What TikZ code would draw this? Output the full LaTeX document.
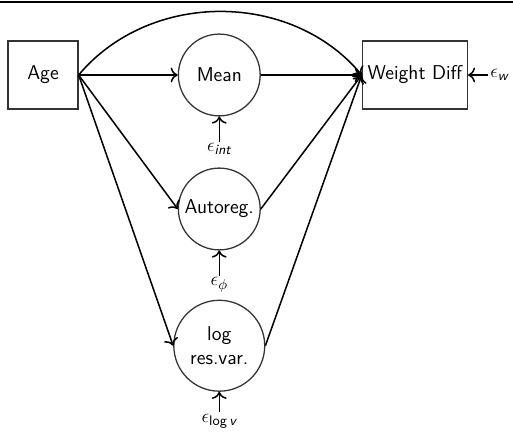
\documentclass[tikz,border=0pt]{standalone}
\usepackage{amsmath}
\usetikzlibrary{arrows.meta,positioning}

\begin{document}
\begin{tikzpicture}[
        >={To[scale=1.2]},
        every node/.style={font=\fontsize{12.5}{15}\selectfont\sffamily},
        obs/.style={draw=black!80, thick, rectangle, minimum height=1.5cm},
        latent/.style={draw=black!80, thick, circle, minimum size=1.8cm, align=center, inner sep=1pt},
        noise/.style={inner sep=1pt},
        link/.style={->, line width=0.95pt},
        node distance=1.12cm and 2.18cm
        ]
        \useasboundingbox (-0.946,-7.854) rectangle (10.34,1.65);
        % rule along the top
        \draw[line width=1.2pt] (-0.946,1.6) -- (10.34,1.6);

        % Nodes
        \node[obs, minimum width=1.54cm] (age) at (0,0) {Age};
        \node[latent] (mean)    [right=of age]            {Mean};
        \node[obs, minimum width=2.31cm, inner sep=2pt] (wdiff) [right=2.22cm of mean] {Weight Diff};
        \node[latent] (autoreg) [below=of mean]           {Autoreg.};
        \node[latent, minimum size=2cm] (logvar) [below=1.08cm of autoreg] {log\\res.var.};

        % Error terms
        \node[noise] (ew)   [right=0.45cm of wdiff]  {$\epsilon_{\textit{w}}$};
        \node[noise] (eint) [below=0.55cm of mean]   {$\epsilon_{\textit{int}}$};
        \node[noise] (ephi) [below=0.55cm of autoreg] {$\epsilon_{\phi}$};
        \node[noise] (elogv) [below=0.45cm of logvar] {$\epsilon_{\textsf{log}\,\textit{v}}$};

        % Paths
        \draw[link] (age.east) -- (mean.west);
        \draw[link] (age.east) -- (autoreg.west);
        \draw[link] (age.east) -- (logvar.west);
        \draw[link, bend left=50] (age.east) to (wdiff.west);
        \draw[link] (mean.east)    -- (wdiff.west);
        \draw[link] (autoreg.east) -- (wdiff.west);
        \draw[link] (logvar.east)  -- (wdiff.west);
        \draw[link] (ew)    -- (wdiff);
        \draw[link] (eint)  -- (mean);
        \draw[link] (ephi)  -- (autoreg);
        \draw[link] (elogv) -- (logvar);
      \end{tikzpicture}
\end{document}
